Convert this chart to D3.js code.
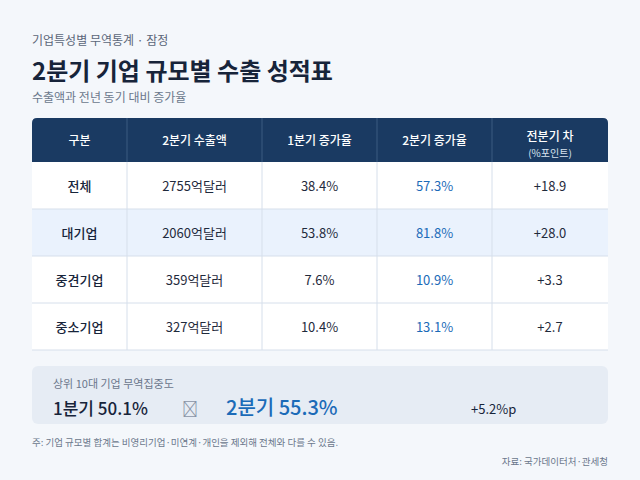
<!DOCTYPE html>
<html><head><meta charset="utf-8">
<script src="https://cdn.jsdelivr.net/npm/d3@7"></script>
<style>
html,body{margin:0;padding:0;background:#f4f7fb;}
svg{display:block;font-family:"Noto Sans CJK KR","Noto Sans",sans-serif;}
</style></head>
<body>
<svg id="c" width="640" height="480"></svg>
<script>
// ---- data ----
const headers = ["구분", "2분기 수출액", "1분기 증가율", "2분기 증가율", "전분기 차"];
const headerSub = ["", "", "", "", "(%포인트)"];
const categories = ["전체", "대기업", "중견기업", "중소기업"];
const exportsQ2 = [2755, 2060, 359, 327];       // 억달러
const growthQ1 = [38.4, 53.8, 7.6, 10.4];        // %
const growthQ2 = [57.3, 81.8, 10.9, 13.1];       // %
const diffPt = [18.9, 28.0, 3.3, 2.7];           // %p
const concentrationQ1 = 50.1;
const concentrationQ2 = 55.3;
const concentrationDiff = 5.2;

// ---- layout ----
const svg = d3.select("#c");
const W = 640, H = 480;
svg.append("rect").attr("width", W).attr("height", H).attr("fill", "#f4f7fb");

const left = 32, right = 608;
svg.append("text").attr("x", left).attr("y", 45).attr("font-size", 12).attr("fill", "#5b6679")
  .text("기업특성별 무역통계 · 잠정");
svg.append("text").attr("x", left).attr("y", 80).attr("font-size", 24).attr("font-weight", 700).attr("fill", "#17243a")
  .text("2분기 기업 규모별 수출 성적표");
svg.append("text").attr("x", left).attr("y", 102).attr("font-size", 12).attr("fill", "#6b778c")
  .text("수출액과 전년 동기 대비 증가율");

// columns
const colFrac = [95, 135, 115, 115, 116];
const colEdges = [left];
colFrac.forEach((w, i) => colEdges.push(colEdges[i] + w));
const colX = d3.scaleOrdinal().domain(d3.range(headers.length)).range(colEdges.slice(0, -1));
const colW = i => colEdges[i + 1] - colEdges[i];

const headTop = 118, headBot = 162;
const y = d3.scaleBand().domain(categories).range([headBot, 350]).padding(0);

// header background (rounded top)
const r = 5;
svg.append("path")
  .attr("d", `M${left},${headBot} L${left},${headTop + r} Q${left},${headTop} ${left + r},${headTop} L${right - r},${headTop} Q${right},${headTop} ${right},${headTop + r} L${right},${headBot} Z`)
  .attr("fill", "#1a3a62");

// body rows
const rowsG = svg.append("g");
rowsG.selectAll("rect.row").data(categories).join("rect")
  .attr("x", left).attr("width", right - left)
  .attr("y", d => y(d)).attr("height", y.bandwidth())
  .attr("fill", (d, i) => i === 1 ? "#eaf2fd" : "#ffffff");

const lineColor = "#d6dfeb";
rowsG.selectAll("line.h").data(categories).join("line")
  .attr("x1", left).attr("x2", right)
  .attr("y1", d => y(d) + y.bandwidth()).attr("y2", d => y(d) + y.bandwidth())
  .attr("stroke", lineColor).attr("stroke-width", 1);
svg.selectAll("line.vh").data(d3.range(1, headers.length)).join("line")
  .attr("x1", i => colX(i)).attr("x2", i => colX(i))
  .attr("y1", headTop).attr("y2", headBot)
  .attr("stroke", "#3b5a80").attr("stroke-width", 1);
svg.selectAll("line.vb").data(d3.range(1, headers.length)).join("line")
  .attr("x1", i => colX(i)).attr("x2", i => colX(i))
  .attr("y1", headBot).attr("y2", 350)
  .attr("stroke", lineColor).attr("stroke-width", 1);

// header text
const hg = svg.append("g");
headers.forEach((h, i) => {
  const cx = colX(i) + colW(i) / 2;
  if (headerSub[i]) {
    hg.append("text").attr("x", cx).attr("y", 141).attr("text-anchor", "middle")
      .attr("font-size", 12).attr("font-weight", 500).attr("fill", "#ffffff").text(h);
    hg.append("text").attr("x", cx).attr("y", 157).attr("text-anchor", "middle")
      .attr("font-size", 10).attr("fill", "#dbe4f0").text(headerSub[i]);
  } else {
    hg.append("text").attr("x", cx).attr("y", 145).attr("text-anchor", "middle")
      .attr("font-size", 12).attr("font-weight", 500).attr("fill", "#ffffff").text(h);
  }
});

// body text
const fmt1 = d3.format(".1f");
const rowsData = categories.map((c, i) => [
  { t: c, bold: true, color: "#17243a" },
  { t: exportsQ2[i] + "억달러", color: "#1f2a3c" },
  { t: fmt1(growthQ1[i]) + "%", color: "#1f2a3c" },
  { t: fmt1(growthQ2[i]) + "%", color: "#1b6bb8" },
  { t: "+" + fmt1(diffPt[i]), color: "#1f2a3c" }
]);
const rg = svg.selectAll("g.r").data(rowsData).join("g")
  .attr("transform", (d, i) => `translate(0,${y(categories[i]) + y.bandwidth() / 2 + 5})`);
rg.selectAll("text").data(d => d).join("text")
  .attr("x", (d, j) => colX(j) + colW(j) / 2)
  .attr("text-anchor", "middle")
  .attr("font-size", 13)
  .attr("font-weight", d => d.bold ? 500 : 400)
  .attr("fill", d => d.color)
  .text(d => d.t);

// summary box
svg.append("rect").attr("x", left).attr("y", 366).attr("width", right - left).attr("height", 58)
  .attr("rx", 6).attr("fill", "#e6ecf4");
svg.append("text").attr("x", 53).attr("y", 388).attr("font-size", 11).attr("fill", "#6b778c")
  .text("상위 10대 기업 무역집중도");
svg.append("text").attr("x", 53).attr("y", 415).attr("font-size", 17).attr("font-weight", 500).attr("fill", "#17243a")
  .text("1분기 " + fmt1(concentrationQ1) + "%");
svg.append("text").attr("x", 182).attr("y", 415).attr("font-size", 16).attr("fill", "#8a94a6")
  .text("\uE000");
svg.append("text").attr("x", 226).attr("y", 415).attr("font-size", 20).attr("font-weight", 500).attr("fill", "#1b6bb8")
  .text("2분기 " + fmt1(concentrationQ2) + "%");
svg.append("text").attr("x", 471).attr("y", 414).attr("font-size", 13).attr("font-weight", 400).attr("fill", "#17243a")
  .text("+" + fmt1(concentrationDiff) + "%p");

// footnotes
svg.append("text").attr("x", left).attr("y", 446).attr("font-size", 9.5).attr("fill", "#6b778c")
  .text("주: 기업 규모별 합계는 비영리기업·미연계·개인을 제외해 전체와 다를 수 있음.");
svg.append("text").attr("x", right).attr("y", 465).attr("text-anchor", "end").attr("font-size", 9.5).attr("fill", "#6b778c")
  .text("자료: 국가데이터처·관세청");
</script>
</body></html>
